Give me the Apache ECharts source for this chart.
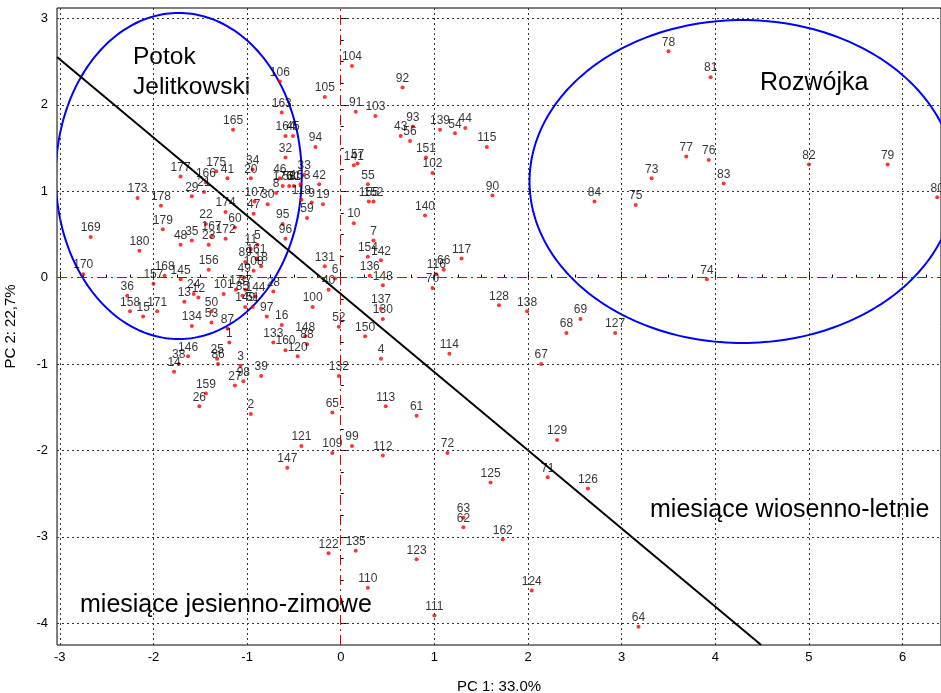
<!DOCTYPE html>
<html>
<head>
<meta charset="utf-8">
<script src="https://cdn.jsdelivr.net/npm/echarts@6/dist/echarts.min.js"></script>
<style>html,body{margin:0;padding:0;background:#fff}#c{width:941px;height:693px}</style>
</head>
<body>
<div id="c"></div>
<script>
// ---- data ----
const pointIds = [1,2,3,4,5,6,7,8,9,10,11,12,13,14,15,16,17,18,19,20,
21,22,23,24,25,26,27,28,29,30,31,32,33,34,35,36,37,38,39,40,
41,42,43,44,45,46,47,48,49,50,51,52,53,54,55,56,57,58,59,60,
61,62,63,64,65,66,67,68,69,70,71,72,73,74,75,76,77,78,79,80,
81,82,83,84,85,86,87,88,89,90,91,92,93,94,95,96,97,98,99,100,
101,102,103,104,105,106,107,108,109,110,111,112,113,114,115,116,117,118,120,
121,122,123,124,125,126,127,128,129,130,131,132,133,134,135,136,137,138,139,140,
141,142,143,144,145,146,147,148,149,150,151,152,153,154,155,156,157,158,159,160,
161,162,163,164,165,166,167,168,169,170,171,172,173,174,175,176,177,178,179,180];
const pc1 = [-1.19,-0.96,-1.07,0.43,-0.89,-0.06,0.35,-0.69,-0.31,0.14,-0.96,-1.52,-1.67,-1.78,-2.11,-0.63,-1.12,-0.85,-0.19,-0.96,
-1.46,-1.44,-1.41,-1.57,-1.32,-1.51,-1.13,-0.72,-1.59,-0.78,-0.50,-0.59,-0.39,-0.94,-1.59,-2.28,-1.02,-1.73,-0.85,-0.13,
-1.21,-0.23,0.64,1.33,-0.51,-0.65,-0.93,-1.71,-1.03,-1.38,-0.94,-0.02,-1.38,1.22,0.29,0.74,0.18,-0.55,-0.36,-1.13,
0.81,1.31,1.31,3.18,-0.09,1.10,2.14,2.41,2.56,0.98,2.21,1.14,3.32,3.91,3.15,3.93,3.69,3.50,5.84,6.37,
3.95,5.00,4.09,2.71,-1.05,-1.31,-1.21,-0.36,-1.02,1.62,0.16,0.66,0.77,-0.27,-0.62,-0.59,-0.79,-1.04,0.12,-0.30,
-1.25,0.98,0.37,0.12,-0.17,-0.65,-0.92,-0.93,-0.09,0.29,1.00,0.45,0.48,1.16,1.56,1.02,1.29,-0.42,-0.46,
-0.42,-0.13,0.81,2.04,1.60,2.64,2.93,1.69,2.31,0.45,-0.17,-0.02,-0.72,-1.59,0.16,0.31,0.43,1.99,1.06,0.90,
0.14,0.43,0.45,-0.91,-1.71,-1.63,-0.57,-0.38,-1.02,0.26,0.91,0.35,-0.43,0.29,0.30,-1.41,-2.00,-2.25,-1.44,-0.59,
-0.90,1.73,-0.63,-0.59,-1.15,-1.44,-1.38,-1.88,-2.67,-2.75,-1.96,-1.23,-2.17,-1.23,-1.33,-0.62,-1.71,-1.92,-1.90,-2.15];
const pc2 = [-0.75,-1.58,-1.02,-0.94,0.38,-0.01,0.43,0.98,0.87,0.63,0.33,-0.23,-0.28,-1.09,-0.45,-0.55,-0.14,0.13,0.85,1.15,
0.99,0.62,0.38,-0.19,-0.94,-1.49,-1.25,-0.16,0.94,0.85,1.06,1.39,1.19,1.25,0.43,-0.21,-0.14,-1.00,-1.14,-0.14,
1.15,1.08,1.64,1.73,1.64,1.15,0.74,0.38,0.00,-0.39,-0.34,-0.57,-0.52,1.67,1.08,1.58,1.32,1.06,0.69,0.58,
-1.60,-2.89,-2.78,-4.04,-1.56,0.09,-1.00,-0.64,-0.48,-0.12,-2.31,-2.03,1.15,-0.02,0.84,1.36,1.40,2.62,1.31,0.93,
2.32,1.31,1.09,0.88,-0.21,-1.00,-0.59,-0.77,0.18,0.95,1.92,2.20,1.75,1.51,0.62,0.45,-0.45,-1.20,-1.95,-0.34,
-0.19,1.21,1.87,2.45,2.09,2.27,0.88,0.08,-2.03,-3.59,-3.91,-2.06,-1.49,-0.88,1.51,0.04,0.22,0.90,-0.91,
-1.95,-3.19,-3.26,-3.62,-2.37,-2.44,-0.64,-0.32,-1.88,-0.48,0.13,-1.14,-0.75,-0.56,-3.16,0.02,-0.36,-0.39,1.71,0.72,
1.30,0.20,-0.09,-0.22,-0.02,-0.91,-2.20,-0.68,-0.34,-0.68,1.39,0.88,1.08,0.24,0.88,0.09,-0.07,-0.39,-1.34,-0.84,
0.22,-3.03,1.91,1.64,1.71,1.10,0.48,0.02,0.47,0.04,-0.39,0.45,0.92,0.76,1.23,1.06,1.17,0.83,0.56,0.31];

const xTicks = [-3,-2,-1,0,1,2,3,4,5,6];
const yTicks = [-4,-3,-2,-1,0,1,2,3];
// divider line endpoints (PC1, PC2)
const dividerX = [-3.03, 4.49];
const dividerY = [2.553, -4.252];
// group ellipses: centre and half-axes in PC units
const ellipseCx = [-1.73, 4.29];
const ellipseCy = [1.176, 1.112];
const ellipseRx = [1.313, 2.274];
const ellipseRy = [1.887, 1.869];

// ---- chart ----
const xMin = -3.03, xMax = 6.41, yMin = -4.252, yMax = 3.12;
const FONT = 'Liberation Sans, Arial, sans-serif';
const xMinor = []; for (let v = -3; v <= 6.3; v += 0.25) xMinor.push(+v.toFixed(2));
const yMinor = []; for (let v = -4; v <= 3.01; v += 0.25) yMinor.push(+v.toFixed(2));

const pts = pointIds.map((id, i) => [pc1[i], pc2[i], id]);
const gridX = xTicks.filter(v => v !== 0).map(v => ({xAxis: v}));
const gridY = yTicks.filter(v => v !== 0).map(v => ({yAxis: v}));

const chart = echarts.init(document.getElementById('c'), null, {renderer: 'canvas'});
chart.setOption({
  animation: false,
  textStyle: {fontFamily: FONT},
  grid: {left: 57, right: 0, top: 8, bottom: 48, show: true, borderColor: '#000', borderWidth: 1,
    backgroundColor: 'transparent', containLabel: false, outerBoundsMode: 'none'},
  xAxis: [{
    type: 'value', min: xMin, max: xMax,
    axisLine: {show: false}, splitLine: {show: false},
    axisTick: {show: true, inside: true, length: 6, customValues: xTicks, lineStyle: {color: '#000'}},
    axisLabel: {customValues: xTicks, color: '#000', fontSize: 13, margin: 6, fontFamily: FONT},
    name: 'PC 1: 33.0%', nameLocation: 'middle', nameGap: 34,
    nameTextStyle: {color: '#000', fontSize: 15, fontFamily: FONT}
  }, {
    type: 'value', min: xMin, max: xMax, position: 'bottom',
    axisLine: {show: false}, splitLine: {show: false}, axisLabel: {show: false},
    axisTick: {show: true, inside: true, length: 3, customValues: xMinor, lineStyle: {color: '#000'}}
  }],
  yAxis: [{
    type: 'value', min: yMin, max: yMax,
    axisLine: {show: false}, splitLine: {show: false},
    axisTick: {show: true, inside: true, length: 6, customValues: yTicks, lineStyle: {color: '#000'}},
    axisLabel: {customValues: yTicks, color: '#000', fontSize: 13, margin: 9, fontFamily: FONT},
    name: 'PC 2: 22,7%', nameLocation: 'middle', nameGap: 39, nameRotate: 90,
    nameTextStyle: {color: '#000', fontSize: 15, fontFamily: FONT}
  }, {
    type: 'value', min: yMin, max: yMax, position: 'left',
    axisLine: {show: false}, splitLine: {show: false}, axisLabel: {show: false},
    axisTick: {show: true, inside: true, length: 3, customValues: yMinor, lineStyle: {color: '#000'}}
  }],
  graphic: [
    {type: 'text', left: 133, top: 42, style: {text: 'Potok\nJelitkowski', font: '24.5px ' + FONT, lineHeight: 30, fill: '#000'}},
    {type: 'text', left: 760, top: 71, style: {text: 'Rozwójka', font: '25px ' + FONT, fill: '#000'}},
    {type: 'text', left: 650, top: 498, style: {text: 'miesiące wiosenno-letnie', font: '25px ' + FONT, fill: '#000'}},
    {type: 'text', left: 80, top: 593, style: {text: 'miesiące jesienno-zimowe', font: '25px ' + FONT, fill: '#000'}}
  ],
  series: [{
    type: 'line', data: [], silent: true,
    markLine: {
      silent: true, symbol: 'none', label: {show: false},
      lineStyle: {color: '#333', type: [2, 3], width: 1},
      data: gridX.concat(gridY)
    }
  }, {
    type: 'line', data: [], silent: true,
    markLine: {
      silent: true, symbol: 'none', label: {show: false},
      lineStyle: {color: '#e00000', type: [10, 4, 2, 4], width: 1},
      data: [{xAxis: 0}, {yAxis: 0}]
    }
  }, {
    type: 'custom', coordinateSystem: 'cartesian2d', clip: true, silent: true,
    data: ellipseCx.map((c, i) => [c, ellipseCy[i]]),
    renderItem: function (params, api) {
      const i = params.dataIndex;
      const p = [];
      for (let k = 0; k <= 240; k++) {
        const t = k / 240 * Math.PI * 2;
        p.push(api.coord([ellipseCx[i] + ellipseRx[i] * Math.cos(t), ellipseCy[i] + ellipseRy[i] * Math.sin(t)]));
      }
      return {type: 'polyline', shape: {points: p}, style: {stroke: '#0000ff', lineWidth: 2, fill: null}};
    }
  }, {
    type: 'line', silent: true, symbol: 'none', clip: true,
    data: dividerX.map((x, i) => [x, dividerY[i]]),
    lineStyle: {color: '#000', width: 2}
  }, {
    type: 'scatter', data: pts, symbol: 'circle', symbolSize: 4,
    itemStyle: {color: '#ff0000'},
    label: {show: true, position: 'top', distance: 1, formatter: p => String(p.data[2]),
      color: '#000', fontSize: 12, fontFamily: FONT},
    labelLayout: {hideOverlap: false}
  }]
});
</script>
</body>
</html>
